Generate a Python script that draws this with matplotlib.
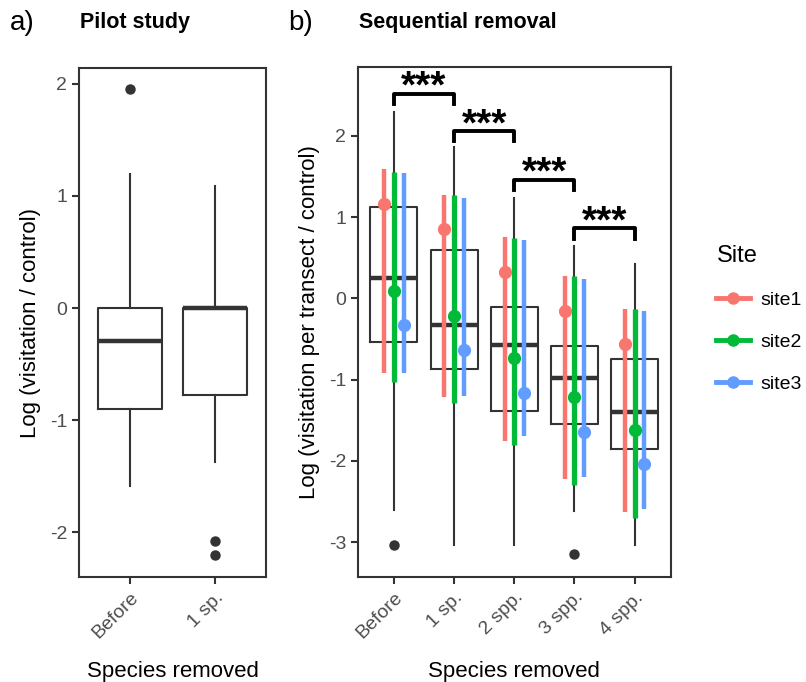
import matplotlib
matplotlib.use("Agg")
import matplotlib.pyplot as plt
from matplotlib.lines import Line2D

plt.rcParams['font.family'] = ['Liberation Sans', 'DejaVu Sans']
plt.rcParams['axes.unicode_minus'] = False

# panel a: pilot study
pilot_cats = ["Before", "1 sp."]
pilot_whislo = [-1.59, -1.37]
pilot_q1 = [-0.90, -0.78]
pilot_med = [-0.29, 0.0]
pilot_q3 = [0.0, 0.0]
pilot_whishi = [1.20, 1.09]
pilot_fliers = [[1.95], [-2.08, -2.20]]

# panel b: sequential removal
seq_cats = ["Before", "1 sp.", "2 spp.", "3 spp.", "4 spp."]
seq_whislo = [-2.61, -3.04, -3.04, -2.62, -3.04]
seq_q1 = [-0.54, -0.87, -1.39, -1.55, -1.85]
seq_med = [0.25, -0.33, -0.57, -0.98, -1.40]
seq_q3 = [1.13, 0.59, -0.11, -0.59, -0.75]
seq_whishi = [2.30, 1.86, 1.24, 0.65, 0.42]
seq_fliers = [[-3.04], [], [], [-3.15], []]

sites = ["site1", "site2", "site3"]
site_colors = ["#F8766D", "#00BA38", "#619CFF"]
site_mean = [
    [1.16, 0.85, 0.33, -0.16, -0.56],
    [0.09, -0.22, -0.74, -1.22, -1.62],
    [-0.33, -0.64, -1.16, -1.65, -2.04],
]
site_hi = [
    [1.59, 1.27, 0.75, 0.27, -0.13],
    [1.56, 1.27, 0.74, 0.27, -0.13],
    [1.54, 1.24, 0.72, 0.24, -0.15],
]
site_lo = [
    [-0.92, -1.22, -1.75, -2.22, -2.63],
    [-1.03, -1.29, -1.81, -2.30, -2.71],
    [-0.92, -1.20, -1.70, -2.20, -2.59],
]

# significance brackets between consecutive groups
sig_y = [2.52, 2.06, 1.46, 0.86]
sig_tip = [2.39, 1.94, 1.33, 0.73]
sig_label = ["***", "***", "***", "***"]

dark = "#333333"
tick_col = "#4D4D4D"

fig = plt.figure(figsize=(8.06, 6.82), dpi=100)
ax1 = fig.add_axes([0.098, 0.154, 0.232, 0.746])
ax2 = fig.add_axes([0.444, 0.154, 0.388, 0.748])


def draw_boxes(ax, whislo, q1, med, q3, whishi, fliers, width):
    stats = []
    for i in range(len(med)):
        stats.append(dict(whislo=whislo[i], q1=q1[i], med=med[i], q3=q3[i],
                          whishi=whishi[i], fliers=fliers[i]))
    ax.bxp(stats, positions=range(len(med)), widths=width, showcaps=False,
           boxprops=dict(color=dark, linewidth=1.5),
           whiskerprops=dict(color=dark, linewidth=1.5),
           medianprops=dict(color=dark, linewidth=3.2, solid_capstyle='butt'),
           flierprops=dict(marker='o', markerfacecolor=dark, markeredgecolor=dark,
                           markersize=6.5), zorder=2)


def style_axes(ax, cats, ylabel):
    for s in ax.spines.values():
        s.set_color(dark)
        s.set_linewidth(1.5)
    ax.set_xticks(range(len(cats)))
    ax.set_xticklabels(cats, rotation=45, ha='right', rotation_mode='anchor',
                       fontsize=14, color=tick_col)
    ax.tick_params(axis='both', colors=dark, width=1.5, length=5,
                   labelsize=14, labelcolor=tick_col)
    ax.set_xlabel("Species removed", fontsize=16, labelpad=14)
    ax.set_ylabel(ylabel, fontsize=16, labelpad=6)
    ax.set_xlim(-0.6, len(cats) - 0.4)


# panel a
draw_boxes(ax1, pilot_whislo, pilot_q1, pilot_med, pilot_q3, pilot_whishi,
           pilot_fliers, 0.75)
style_axes(ax1, pilot_cats, "Log (visitation / control)")
ax1.set_ylim(-2.40, 2.14)
ax1.set_yticks([-2, -1, 0, 1, 2])

# panel b
draw_boxes(ax2, seq_whislo, seq_q1, seq_med, seq_q3, seq_whishi,
           seq_fliers, 0.78)
offsets = [-0.16, 0.0, 0.16]
widths = [3.2, 3.8, 3.2]
for k in range(len(sites)):
    xs = [i + offsets[k] for i in range(len(seq_cats))]
    ax2.vlines(xs, site_lo[k], site_hi[k], color=site_colors[k],
               linewidth=widths[k], zorder=3)
    ax2.plot(xs, site_mean[k], 'o', color=site_colors[k], markersize=8.5,
             zorder=4)

for i in range(len(sig_y)):
    ax2.plot([i, i, i + 1, i + 1], [sig_tip[i], sig_y[i], sig_y[i], sig_tip[i]],
             color='black', linewidth=2.8, zorder=5)
    ax2.text(i + 0.5, sig_y[i] - 0.05, sig_label[i], ha='center', va='baseline',
             fontsize=28, fontweight='bold', color='black')

style_axes(ax2, seq_cats, "Log (visitation per transect / control)")
ax2.set_ylim(-3.43, 2.85)
ax2.set_yticks([-3, -2, -1, 0, 1, 2])

# titles
fig.text(0.012, 0.967, "a)", fontsize=20, va='center')
fig.text(0.099, 0.967, "Pilot study", fontsize=15.5, fontweight='bold', va='center')
fig.text(0.358, 0.967, "b)", fontsize=20, va='center')
fig.text(0.446, 0.967, "Sequential removal", fontsize=15.5, fontweight='bold',
         va='center')

# legend
handles = [Line2D([0], [0], color=c, linewidth=3.5, marker='o', markersize=8)
           for c in site_colors]
leg = fig.legend(handles, sites, title="Site", loc='center left',
                 bbox_to_anchor=(0.872, 0.5325), frameon=False, fontsize=14,
                 title_fontsize=17, handlelength=1.75, labelspacing=1.26,
                 handletextpad=0.5, borderpad=0.2)
leg._legend_box.align = "left"

fig.savefig("out.png", dpi=100)
